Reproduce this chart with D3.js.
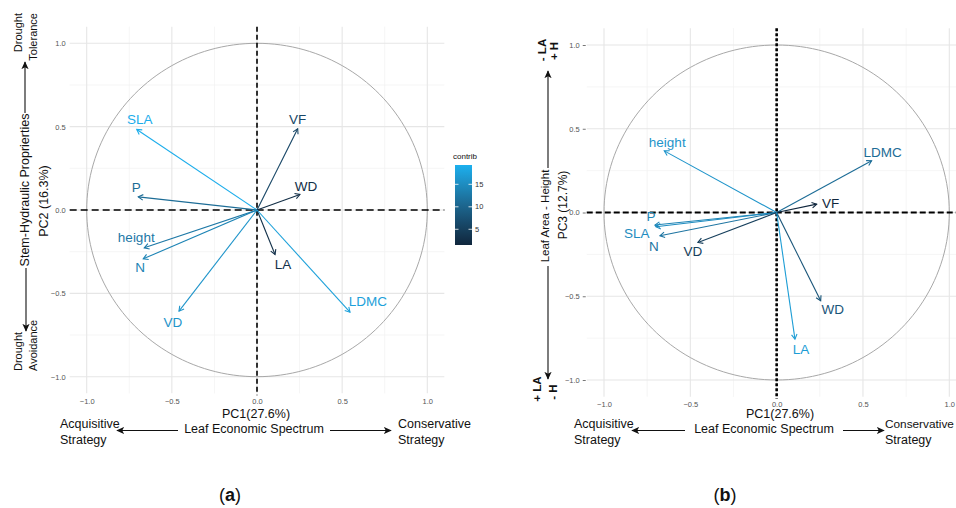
<!DOCTYPE html>
<html>
<head>
<meta charset="utf-8">
<script src="https://cdn.jsdelivr.net/npm/d3@7"></script>
<style>
  body { margin: 0; background: #fff; }
  text { font-family: "Liberation Sans", Arial, sans-serif; }
</style>
</head>
<body>
<script>
// ---- data ----
const varsA    = ["SLA", "VF", "WD", "P", "height", "N", "LA", "VD", "LDMC"];
const pc1A     = [-0.706, 0.239, 0.252, -0.697, -0.662, -0.668, 0.106, -0.458, 0.546];
const pc2A     = [0.483, 0.487, 0.093, 0.079, -0.227, -0.293, -0.267, -0.607, -0.613];
const contribA = [19, 6, 2.5, 11, 12.5, 14, 3, 16, 17.5];

const varsB    = ["height", "LDMC", "VF", "P", "SLA", "N", "VD", "WD", "LA"];
const pc1B     = [-0.651, 0.55, 0.232, -0.705, -0.70, -0.676, -0.456, 0.255, 0.106];
const pc3B     = [0.368, 0.309, 0.05, -0.075, -0.085, -0.139, -0.179, -0.527, -0.756];
const contribB = [16, 11, 1.5, 14, 15, 12, 5, 8, 17];

const tickVals   = [-1, -0.5, 0, 0.5, 1];
const minorVals  = [-0.75, -0.25, 0.25, 0.75];
const legendTicks = [5, 10, 15];
const contribRange = [1.5, 19.3];

// label nudges (px) from arrow tip, layout only
const nudgeA = {SLA:[3,-10], VF:[0,-10], WD:[6,-8], P:[-2,-10], height:[-8,-11],
                N:[-3,8], LA:[8,10], VD:[-6,11], LDMC:[18,-11]};
const nudgeB = {height:[3,-9], LDMC:[11,-8], VF:[14,-1], P:[-4,-9], SLA:[-19,7],
                N:[-6,10], VD:[-5,9], WD:[12,9], LA:[6,10]};

const svg = d3.select("body").append("svg").attr("width", 956).attr("height", 508);
svg.append("rect").attr("width", 956).attr("height", 508).attr("fill", "#fff");

const color = d3.scaleLinear().domain(contribRange)
  .range(["#10273d", "#1cb0ee"]).interpolate(d3.interpolateLab);

svg.append("defs").append("marker")
  .attr("id", "tri").attr("viewBox", "0 0 10 10").attr("refX", 9).attr("refY", 5)
  .attr("markerWidth", 8).attr("markerHeight", 8).attr("orient", "auto")
  .attr("markerUnits", "userSpaceOnUse")
  .append("path").attr("d", "M0,0.5L10,5L0,9.5L2.5,5Z").attr("fill", "#111");

function vtext(x, y, s, size, anchor, weight) {
  svg.append("text").attr("transform", `translate(${x},${y}) rotate(-90)`)
    .attr("text-anchor", anchor || "middle").attr("dy", "0.35em")
    .attr("font-size", size).attr("font-weight", weight || "normal")
    .attr("fill", "#111").text(s);
}
function htext(x, y, s, size, anchor) {
  svg.append("text").attr("x", x).attr("y", y).attr("dy", "0.35em")
    .attr("text-anchor", anchor || "start").attr("font-size", size)
    .attr("fill", "#111").text(s);
}
function arrowLine(x1, y1, x2, y2) {
  svg.append("line").attr("x1", x1).attr("y1", y1).attr("x2", x2).attr("y2", y2)
    .attr("stroke", "#111").attr("stroke-width", 1.1).attr("marker-end", "url(#tri)");
}

function panel(o) {
  const x = d3.scaleLinear().domain([-1, 1]).range(o.xr);
  const y = d3.scaleLinear().domain([-1, 1]).range(o.yr);
  const g = svg.append("g");
  const px0 = x(-1.1), px1 = x(1.1), py0 = y(1.1), py1 = y(-1.1);

  // grid
  g.selectAll(".gmx").data(minorVals).join("line")
    .attr("x1", d => x(d)).attr("x2", d => x(d)).attr("y1", py0).attr("y2", py1)
    .attr("stroke", "#f0f0f0").attr("stroke-width", 0.7);
  g.selectAll(".gmy").data(minorVals).join("line")
    .attr("y1", d => y(d)).attr("y2", d => y(d)).attr("x1", px0).attr("x2", px1)
    .attr("stroke", "#f0f0f0").attr("stroke-width", 0.7);
  g.selectAll(".gx").data(tickVals).join("line")
    .attr("x1", d => x(d)).attr("x2", d => x(d)).attr("y1", py0).attr("y2", py1)
    .attr("stroke", "#e6e6e6").attr("stroke-width", 1.1);
  g.selectAll(".gy").data(tickVals).join("line")
    .attr("y1", d => y(d)).attr("y2", d => y(d)).attr("x1", px0).attr("x2", px1)
    .attr("stroke", "#e6e6e6").attr("stroke-width", 1.1);

  // unit circle
  const circ = d3.range(0, 361, 2).map(a => [Math.cos(a * Math.PI / 180), Math.sin(a * Math.PI / 180)]);
  g.append("path").attr("d", d3.line().x(d => x(d[0])).y(d => y(d[1]))(circ))
    .attr("fill", "none").attr("stroke", "#a8a8a8").attr("stroke-width", 1);

  // reference lines
  g.append("line").attr("x1", px0).attr("x2", px1).attr("y1", y(0)).attr("y2", y(0))
    .attr("stroke", "#000").attr("stroke-width", o.hw).attr("stroke-dasharray", o.hd);
  g.append("line").attr("x1", x(0)).attr("x2", x(0)).attr("y1", py0).attr("y2", py1 + 2)
    .attr("stroke", "#000").attr("stroke-width", o.vw).attr("stroke-dasharray", o.vd);

  // axes (labels only)
  const fmt = d3.format(".1f");
  const ax = g.append("g").attr("transform", `translate(0,${py1})`)
    .call(d3.axisBottom(x).tickValues(tickVals).tickFormat(fmt).tickSize(0).tickPadding(5));
  const ay = g.append("g").attr("transform", `translate(${px0 - 1},0)`)
    .call(d3.axisLeft(y).tickValues(tickVals).tickFormat(fmt).tickSize(o.ytick).tickPadding(3));
  [ax, ay].forEach(a => {
    a.select(".domain").remove();
    a.selectAll("text").attr("font-size", 7.5).attr("fill", "#555")
      .attr("font-family", "Liberation Sans, Arial, sans-serif");
    a.selectAll("line").attr("stroke", "#777");
  });

  // variable arrows
  const n = o.vars.length;
  for (let i = 0; i < n; i++) {
    const c = color(o.contrib[i]);
    const x0 = x(0), y0 = y(0), x1 = x(o.px[i]), y1 = y(o.py[i]);
    g.append("line").attr("x1", x0).attr("y1", y0).attr("x2", x1).attr("y2", y1)
      .attr("stroke", c).attr("stroke-width", 1.1);
    const ang = Math.atan2(y1 - y0, x1 - x0), L = 5.5, w = Math.PI / 6;
    g.append("path")
      .attr("d", `M${x1 - L * Math.cos(ang - w)},${y1 - L * Math.sin(ang - w)}L${x1},${y1}L${x1 - L * Math.cos(ang + w)},${y1 - L * Math.sin(ang + w)}`)
      .attr("fill", "none").attr("stroke", c).attr("stroke-width", 1.1);
    const nd = o.nudge[o.vars[i]];
    g.append("text").attr("x", x1 + nd[0]).attr("y", y1 + nd[1]).attr("dy", "0.35em")
      .attr("text-anchor", "middle").attr("font-size", 13.5).attr("fill", c).text(o.vars[i]);
  }
  return {x, y};
}

// ---- panel (a) ----
panel({xr: [86.7, 427.3], yr: [376.7, 43.3], vars: varsA, px: pc1A, py: pc2A,
       contrib: contribA, nudge: nudgeA, hw: 1.6, hd: "7,4", vw: 1.6, vd: "5,3", ytick: 0});

// legend
const lg = svg.append("g");
const grad = svg.select("defs").append("linearGradient").attr("id", "cgrad")
  .attr("x1", 0).attr("y1", 1).attr("x2", 0).attr("y2", 0);
d3.range(0, 1.001, 0.1).forEach(t => grad.append("stop").attr("offset", t)
  .attr("stop-color", color(contribRange[0] + t * (contribRange[1] - contribRange[0]))));
const ly = d3.scaleLinear().domain(contribRange).range([245, 165]);
lg.append("rect").attr("x", 455).attr("y", 165).attr("width", 17).attr("height", 80).attr("fill", "url(#cgrad)");
legendTicks.forEach(v => {
  lg.append("line").attr("x1", 455).attr("x2", 458.5).attr("y1", ly(v)).attr("y2", ly(v)).attr("stroke", "#fff").attr("stroke-width", 0.8);
  lg.append("line").attr("x1", 468.5).attr("x2", 472).attr("y1", ly(v)).attr("y2", ly(v)).attr("stroke", "#fff").attr("stroke-width", 0.8);
  lg.append("text").attr("x", 475).attr("y", ly(v)).attr("dy", "0.35em").attr("font-size", 7.5).attr("fill", "#333").text(v);
});
lg.append("text").attr("x", 453).attr("y", 156).attr("dy", "0.35em").attr("font-size", 8).attr("fill", "#111").text("contrib");

// left annotations (a)
vtext(18, 13, "Drought", 11, "end");
vtext(33, 13, "Tolerance", 11, "end");
arrowLine(25, 113, 25, 62);
vtext(25, 190, "Stem-Hydraulic Proprierties", 12.5);
vtext(44, 201, "PC2 (16.3%)", 12.5);
arrowLine(26, 268, 26, 331);
vtext(18, 371, "Drought", 11, "start");
vtext(33, 371, "Avoidance", 11, "start");

// bottom annotations (a)
htext(256, 414, "PC1(27.6%)", 12.5, "middle");
htext(254, 429, "Leaf Economic Spectrum", 12.5, "middle");
arrowLine(178, 430.5, 117, 430.5);
arrowLine(330, 430.5, 391, 430.5);
htext(60, 424, "Acquisitive", 12.5);
htext(60, 440, "Strategy", 12.5);
htext(398, 424, "Conservative", 12.5);
htext(398, 440, "Strategy", 12.5);

// ---- panel (b) ----
panel({xr: [604, 949.3], yr: [380, 45], vars: varsB, px: pc1B, py: pc3B,
       contrib: contribB, nudge: nudgeB, hw: 1.8, hd: "6,3", vw: 2.6, vd: "3,2", ytick: 3});

svg.append("text").attr("transform", "translate(541.5,50) rotate(-90)").attr("text-anchor", "middle")
  .attr("dy", "0.35em").attr("font-size", 11.5).attr("font-weight", "bold").attr("fill", "#111").text("- LA");
svg.append("text").attr("transform", "translate(553.5,51) rotate(-90)").attr("text-anchor", "middle")
  .attr("dy", "0.35em").attr("font-size", 11.5).attr("font-weight", "bold").attr("fill", "#111").text("+ H");
arrowLine(548, 168, 548, 71);
vtext(545, 216, "Leaf Area - Height", 11.5);
vtext(563, 205, "PC3 (12.7%)", 12);
arrowLine(548, 266, 548, 379);
svg.append("text").attr("transform", "translate(537,389) rotate(-90)").attr("text-anchor", "middle")
  .attr("dy", "0.35em").attr("font-size", 11.5).attr("font-weight", "bold").attr("fill", "#111").text("+ LA");
svg.append("text").attr("transform", "translate(553,392) rotate(-90)").attr("text-anchor", "middle")
  .attr("dy", "0.35em").attr("font-size", 11.5).attr("font-weight", "bold").attr("fill", "#111").text("- H");

htext(780, 414, "PC1(27.6%)", 12.5, "middle");
htext(764, 429, "Leaf Economic Spectrum", 12.5, "middle");
arrowLine(685, 430.5, 632, 430.5);
arrowLine(843, 430.5, 884, 430.5);
htext(574, 424, "Acquisitive", 12.5);
htext(574, 440, "Strategy", 12.5);
htext(885, 424, "Conservative", 11.8);
htext(885, 440, "Strategy", 12.5);

// panel tags
svg.append("text").attr("x", 230).attr("y", 501).attr("text-anchor", "middle")
  .attr("font-family", "Liberation Serif, serif").attr("font-size", 18).attr("fill", "#111")
  .html("(<tspan font-weight='bold'>a</tspan>)");
svg.append("text").attr("x", 725).attr("y", 501).attr("text-anchor", "middle")
  .attr("font-family", "Liberation Serif, serif").attr("font-size", 18).attr("fill", "#111")
  .html("(<tspan font-weight='bold'>b</tspan>)");
</script>
</body>
</html>
